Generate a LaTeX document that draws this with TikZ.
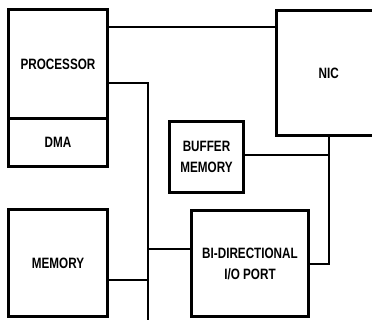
\documentclass[tikz,border=0pt]{standalone}
\usepackage{fontspec}
\setmainfont{Liberation Sans}[FakeStretch=0.78]
\usepackage{tikz}
\usetikzlibrary{positioning,calc}

\begin{document}
\begin{tikzpicture}[x=1pt,y=-1pt,
  b/.style={draw,line width=3pt,outer sep=0pt,inner sep=2pt,align=center,font=\fontsize{15}{21}\selectfont\bfseries},
  w/.style={line width=2pt}]
  \useasboundingbox (0,0) rectangle (372,320);
  \node[b,minimum width=99pt,minimum height=109pt] (proc) at (58,64) {PROCESSOR};
  \node[b,minimum width=99pt,minimum height=48pt,below=0pt of proc] (dma) {DMA};
  \node[b,minimum width=104.5pt,minimum height=125pt] (nic) at (328.75,73) {NIC};
  \node[b,minimum width=74pt,minimum height=71pt] (buf) at (206.5,157) {BUFFER\\MEMORY};
  \node[b,minimum width=99pt,minimum height=107pt] (mem) at (58,263) {MEMORY};
  \node[b,minimum width=117pt,minimum height=106pt] (bidir) at (250,263.5) {BI-DIRECTIONAL\\I/O PORT};
  % bus and taps
  \coordinate (bus) at (148,83);
  \coordinate (busend) at (148,322);
  \coordinate (nictap) at (329,264);
  \draw[w] (proc.east |- 0,27) -- (nic.west |- 0,27);
  \draw[w] (proc.east |- bus) -| (busend);
  \draw[w] (mem.east |- 0,280) -- (bus |- 0,280);
  \draw[w] (bus |- 0,249) -- (bidir.west |- 0,249);
  \draw[w] (nic.south -| nictap) |- (bidir.east |- nictap);
  \draw[w] (buf.east |- 0,155) -- (nictap |- 0,155);
\end{tikzpicture}
\end{document}
